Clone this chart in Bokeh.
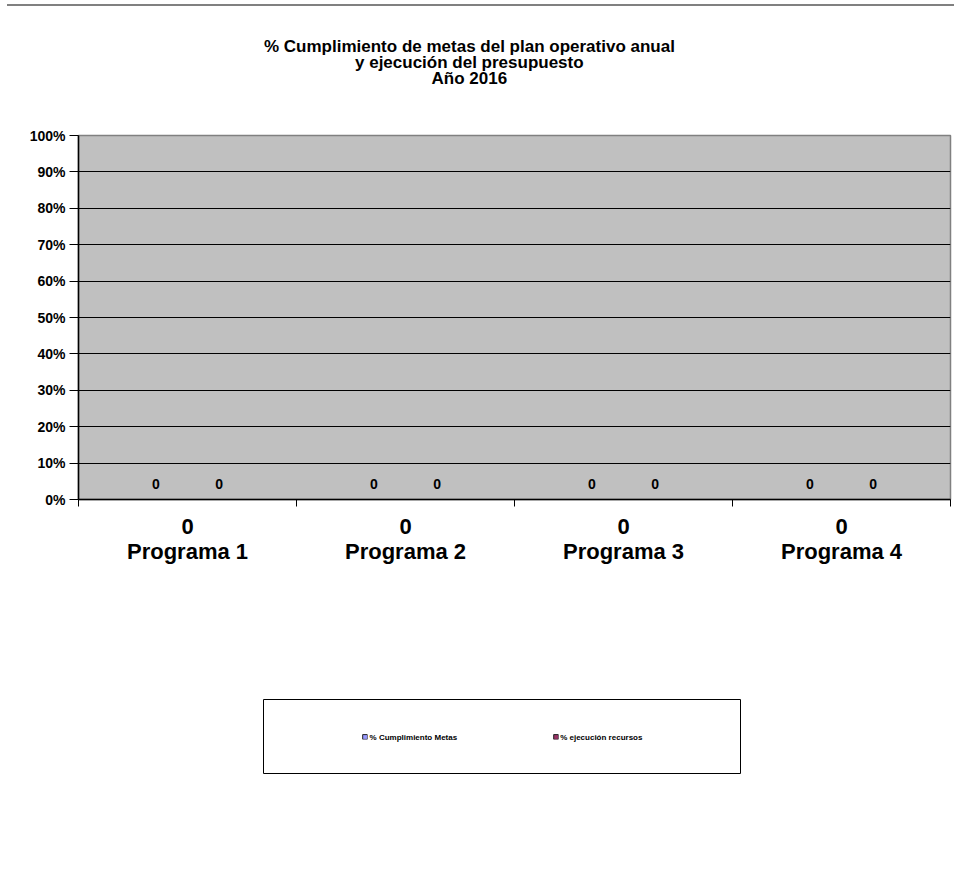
from bokeh.plotting import figure
from bokeh.models import (Range1d, LinearAxis, FixedTicker, NumeralTickFormatter,
                          Title, Legend, LegendItem, Div)
from bokeh.layouts import column
from bokeh.embed import file_html
from bokeh.resources import INLINE
from bokeh.core.properties import value

# ---------------- data ----------------
categories = ["Programa 1", "Programa 2", "Programa 3", "Programa 4"]
category_values = ["0", "0", "0", "0"]
cumplimiento_metas = [0, 0, 0, 0]
ejecucion_recursos = [0, 0, 0, 0]
series_names = ["% Cumplimiento Metas", "% ejecución recursos"]
series_colors = ["#9999FF", "#993366"]
title_lines = ["% Cumplimiento de metas del plan operativo anual",
               "y ejecución del presupuesto",
               "Año 2016"]
y_ticks = [0.0, 0.1, 0.2, 0.3, 0.4, 0.5, 0.6, 0.7, 0.8, 0.9, 1.0]

FONT = "Liberation Sans"

n = len(categories)
centers = [i + 0.5 for i in range(n)]
boundaries = list(range(n + 1))
dodge = 0.145
bar_w = 0.28
series = [cumplimiento_metas, ejecucion_recursos]
offsets = [-dodge, dodge]

# ---------------- main chart ----------------
p = figure(width=952, height=687, x_range=Range1d(0, n), y_range=Range1d(0, 1),
           output_backend="svg", toolbar_location=None, x_axis_location=None,
           min_border_left=78, min_border_right=2, min_border_top=129,
           min_border_bottom=194, background_fill_color="#C0C0C0",
           border_fill_color="white", outline_line_color="#808080",
           outline_line_width=1.5)

# title: three centred lines (stacked upward from the plot area)
p.add_layout(Title(text=" ", text_font_size="1px", standoff=46,
                   vertical_align="middle"), "above")
title_center_x = 390          # centre of the title block, from the frame's left edge
title_widths = [409, 227, 74]  # rendered widths of the lines at 17px
for line, w in reversed(list(zip(title_lines, title_widths))):
    p.add_layout(Title(text=line, align="left", offset=title_center_x - w / 2,
                       vertical_align="middle", standoff=-5.5,
                       text_font=FONT, text_font_style="bold",
                       text_font_size="17px", text_color="black"), "above")

yt = FixedTicker(ticks=y_ticks)
p.yaxis.ticker = yt
p.yaxis.formatter = NumeralTickFormatter(format="0%")
p.yaxis.major_label_text_font = FONT
p.yaxis.major_label_text_font_style = "bold"
p.yaxis.major_label_text_font_size = "14px"
p.yaxis.major_label_text_color = "black"
p.yaxis.major_tick_out = 9
p.yaxis.major_tick_in = 0
p.yaxis.minor_tick_out = 0
p.yaxis.minor_tick_in = 0
p.yaxis.axis_line_color = "black"
p.yaxis.axis_line_width = 1.5
p.yaxis.major_tick_line_color = "black"
p.yaxis.major_label_standoff = 4
p.ygrid.ticker = yt
p.ygrid.grid_line_color = "black"
p.ygrid.grid_line_width = 1
p.xgrid.visible = False

xt = FixedTicker(ticks=centers, minor_ticks=boundaries)
ax1 = LinearAxis(ticker=xt,
                 major_label_overrides={c: v for c, v in zip(centers, category_values)},
                 major_tick_out=0, major_tick_in=0,
                 minor_tick_out=7, minor_tick_in=0,
                 minor_tick_line_color="black", axis_line_color="black",
                 axis_line_width=1.5,
                 major_label_text_font=FONT, major_label_text_font_style="bold",
                 major_label_text_font_size="22px", major_label_text_color="black",
                 major_label_standoff=12)
ax2 = LinearAxis(ticker=xt,
                 major_label_overrides={c: v for c, v in zip(centers, categories)},
                 major_tick_out=0, major_tick_in=0,
                 minor_tick_out=0, minor_tick_in=0,
                 major_tick_line_color=None, minor_tick_line_color=None,
                 axis_line_color=None,
                 major_label_text_font=FONT, major_label_text_font_style="bold",
                 major_label_text_font_size="22px", major_label_text_color="black",
                 major_label_standoff=2)
p.add_layout(ax1, "below")
p.add_layout(ax2, "below")

for vals, col, off in zip(series, series_colors, offsets):
    xs = [c + off for c in centers]
    p.vbar(x=xs, width=bar_w, top=vals, bottom=0, fill_color=col, line_color=None)
    p.text(x=xs, y=vals, text=[f"{v:g}" for v in vals], text_align="center",
           text_baseline="middle", y_offset=-16, text_font=value(FONT),
           text_font_style="bold", text_font_size="14px", text_color="black")

# ---------------- legend box (separate small panel below) ----------------
p2 = figure(width=741, height=81, x_range=Range1d(0, n), y_range=Range1d(1, 2),
            output_backend="svg", toolbar_location=None, x_axis_location=None,
            y_axis_location=None, min_border_left=263, min_border_right=0,
            min_border_top=6, min_border_bottom=0, outline_line_color="black",
            outline_line_width=1, background_fill_color="white",
            border_fill_color=None)
p2.grid.visible = False
for fig in (p, p2):
    if "frame_align" in fig.properties():
        fig.frame_align = False

items = []
for name, vals, col, off in zip(series_names, series, series_colors, offsets):
    r = p2.vbar(x=[c + off for c in centers], width=bar_w, top=vals, bottom=0,
                fill_color=col, line_color="#222222", line_width=1)
    items.append(LegendItem(label=name, renderers=[r]))
legend = Legend(items=items, location="center", orientation="horizontal",
                spacing=95, padding=0, margin=0, glyph_width=6, glyph_height=6,
                label_standoff=2, label_height=8, label_text_font=FONT,
                label_text_font_style="bold", label_text_font_size="8px",
                label_text_color="black", border_line_color=None,
                background_fill_alpha=0)
p2.add_layout(legend)

top_rule = Div(text="", width=947, height=2, margin=(4, 0, 0, 7),
               styles={"background-color": "#808080"})

layout = column(top_rule, p, p2, spacing=0)
open("out.html", "w").write(file_html(layout, INLINE))
